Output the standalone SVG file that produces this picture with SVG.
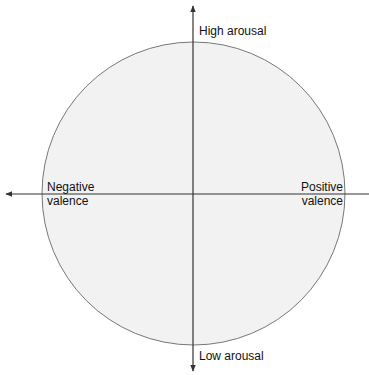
<svg xmlns="http://www.w3.org/2000/svg" width="369" height="375" viewBox="0 0 369 375">
<style>
text{font-family:"Liberation Sans",Arial,sans-serif;font-size:12px;fill:#111}
.ax{stroke:#333;stroke-width:1.2;fill:none}
</style>
<defs>
<marker id="ah" viewBox="0 0 10 10" refX="9" refY="5" markerWidth="7" markerHeight="7" markerUnits="userSpaceOnUse" orient="auto">
<path d="M0,1 L10,5 L0,9 z" fill="#333"/>
</marker>
</defs>
<rect width="369" height="375" fill="#fff"/>
<g id="circle"><circle cx="193.5" cy="193.5" r="151.5" fill="#f2f2f2" stroke="#555" stroke-width="0.8"/></g>
<g id="connectors">
<line class="ax" x1="369" y1="194" x2="6" y2="194" marker-end="url(#ah)"/>
<line class="ax" x1="193" y1="194" x2="193" y2="6" marker-end="url(#ah)"/>
<line class="ax" x1="193" y1="194" x2="193" y2="371" marker-end="url(#ah)"/>
</g>
<g id="high"><text x="199" y="35">High arousal</text></g>
<g id="low"><text x="199" y="360">Low arousal</text></g>
<g id="neg"><text x="47" y="191">Negative</text><text x="47" y="205">valence</text></g>
<g id="pos"><text x="343" y="191" text-anchor="end">Positive</text><text x="343" y="205" text-anchor="end">valence</text></g>
</svg>
